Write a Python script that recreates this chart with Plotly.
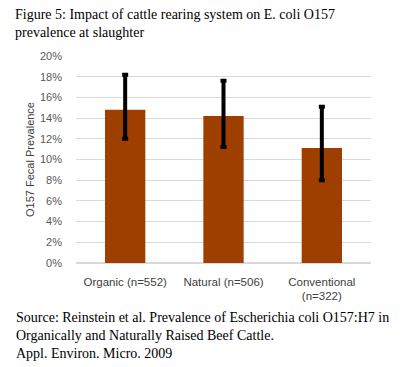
import plotly.graph_objects as go

categories = ["Organic (n=552)", "Natural (n=506)", "Conventional<br>(n=322)"]
prevalence = [14.8, 14.2, 11.1]
err_plus = [3.4, 3.4, 4.0]
err_minus = [2.8, 3.0, 3.1]
ytick_vals = [0, 2, 4, 6, 8, 10, 12, 14, 16, 18, 20]
ytick_text = [f"{v}%" for v in ytick_vals]

title_text = "Figure 5: Impact of cattle rearing system on E. coli O157<br>prevalence at slaughter"
source_text = ("Source: Reinstein et al. Prevalence of Escherichia coli O157:H7 in<br>"
               "Organically and Naturally Raised Beef Cattle.<br>"
               "Appl. Environ. Micro. 2009")

fig = go.Figure(go.Bar(
    x=categories, y=prevalence,
    marker=dict(color="#9E3F00", line=dict(width=0)),
    error_y=dict(type="data", symmetric=False, array=err_plus, arrayminus=err_minus,
                 color="black", thickness=4, width=3),
))

serif = "Liberation Serif"
sans = "Liberation Sans"
OFF = 8  # page offset
L, T, W, H = 76 - OFF, 56 - OFF, 295, 207

fig.update_layout(
    width=400, height=367,
    margin=dict(l=L, r=400-L-W, t=T, b=367-T-H, autoexpand=False),
    paper_bgcolor="white", plot_bgcolor="white",
    bargap=0.59,
    showlegend=False,
    xaxis=dict(showline=False, ticks="", automargin=False, ticklabelstandoff=10,
               tickfont=dict(family=sans, size=11.5, color="#404040"),
               showgrid=False),
    yaxis=dict(range=[0, 20], tickvals=ytick_vals, ticktext=ytick_text, automargin=False,
               showgrid=True, gridcolor="#D9D9D9", gridwidth=1, zeroline=True,
               zerolinecolor="#D9D9D9", showline=False, ticks="", ticklabelstandoff=13,
               tickfont=dict(family=sans, size=11, color="#595959"),
               title=dict(text="O157 Fecal Prevalence", standoff=3,
                          font=dict(family=sans, size=11, color="#404040"))),
    annotations=[
        dict(text=title_text, xref="paper", yref="paper",
             x=(14-OFF-L)/W, y=(T+H-(6-OFF))/H, xanchor="left", yanchor="top",
             align="left", showarrow=False, borderpad=0,
             font=dict(family=serif, size=14, color="black")),
        dict(text=source_text, xref="paper", yref="paper",
             x=(14-OFF-L)/W, y=(T+H-(308-OFF))/H, xanchor="left", yanchor="top",
             align="left", showarrow=False,
             font=dict(family=serif, size=14, color="black")),
    ],
)

fig.write_html("out.html")
